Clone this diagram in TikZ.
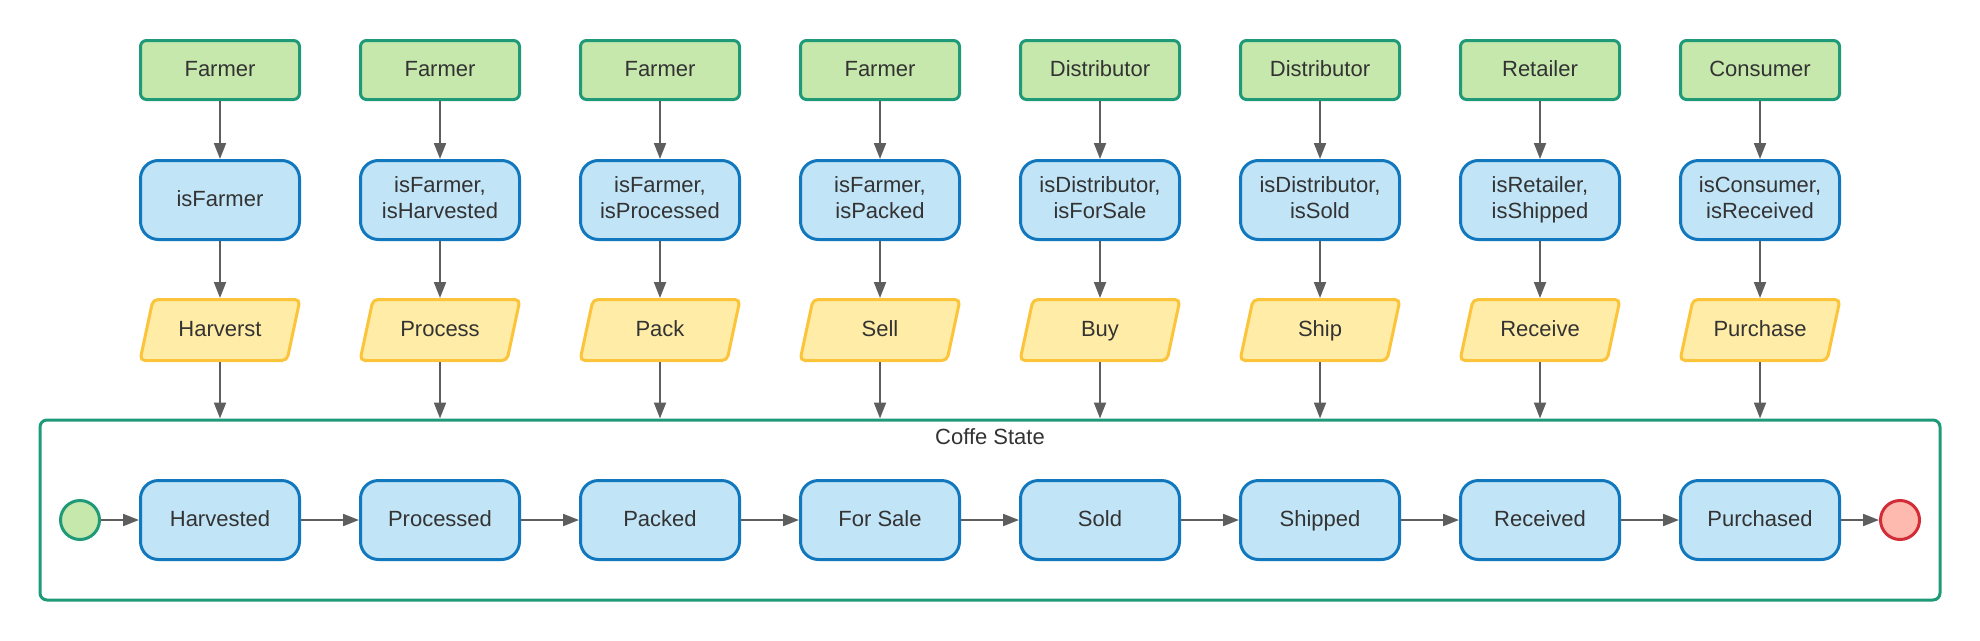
\documentclass[tikz,border=0pt]{standalone}
\usepackage{fontspec}
\setmainfont{Liberation Sans}
\usetikzlibrary{arrows.meta}
\definecolor{gfill}{HTML}{C7E8AC}
\definecolor{gline}{HTML}{1F9A78}
\definecolor{bfill}{HTML}{C1E4F7}
\definecolor{bline}{HTML}{1278BE}
\definecolor{yfill}{HTML}{FFECA6}
\definecolor{yline}{HTML}{FCC43A}
\definecolor{rfill}{HTML}{FFBAB0}
\definecolor{rline}{HTML}{D22C36}
\definecolor{arr}{HTML}{5E5E5E}
\definecolor{txt}{HTML}{333333}
\begin{document}
\begin{tikzpicture}[x=1pt,y=-1pt,
 every node/.style={font=\fontsize{22}{26.4}\selectfont, text=txt, inner sep=0pt},
 one/.style={text height=16pt, text depth=3pt},
 actor/.style={one, draw=gline, fill=gfill, line width=3pt, rounded corners=6pt, minimum width=159pt, minimum height=59pt},
 guard/.style={draw=bline, fill=bfill, line width=3pt, rounded corners=18pt, minimum width=159pt, minimum height=79pt},
 stbox/.style={guard, one},
 act/.style={one, minimum width=159pt, minimum height=61pt, outer sep=1.5pt},
 para/.style={draw=yline, fill=yfill, line width=3pt, rounded corners=5pt},
 conn/.style={draw=arr, line width=2pt, -{Triangle[length=16pt,width=12pt]}},
 cframe/.style={draw=gline, line width=3pt, rounded corners=7pt, minimum width=1900pt, minimum height=180pt},
 dot/.style={circle, line width=3pt, minimum size=39pt}
]
\useasboundingbox (0,0) rectangle (1980,640);
\node[cframe] (box) at (990,510) {};
\node[one] (title) at (990,438) {Coffe State};
\foreach \i/\who/\cond/\gh/\gd/\act/\st in {
 1/Farmer/{isFarmer}/16/3/Harverst/Harvested,
 2/Farmer/{isFarmer,\\isHarvested}/42.4/5.5/Process/Processed,
 3/Farmer/{isFarmer,\\isProcessed}/42.4/5.5/Pack/Packed,
 4/Farmer/{isFarmer,\\isPacked}/42.4/5.5/Sell/For Sale,
 5/Distributor/{isDistributor,\\isForSale}/42.4/5.5/Buy/Sold,
 6/Distributor/{isDistributor,\\isSold}/42.4/5.5/Ship/Shipped,
 7/Retailer/{isRetailer,\\isShipped}/42.4/5.5/Receive/Received,
 8/Consumer/{isConsumer,\\isReceived}/42.4/5.5/Purchase/Purchased}{
  \pgfmathsetmacro\x{220*\i}
  \node[actor] (a\i) at (\x,70) {\who};
  \node[guard, text height=\gh pt, text depth=\gd pt] (g\i) at (\x,200)
    {\parbox[b]{155pt}{\centering \cond}};
  \draw[para] (\x-67,299.5) -- (\x+80,299.5) -- (\x+67,360.5) -- (\x-80,360.5) -- cycle;
  \node[act] (p\i) at (\x,330) {\act};
  \node[stbox] (s\i) at (\x,520) {\st};
  \draw[conn] (a\i) -- (g\i);
  \draw[conn] (g\i) -- (p\i);
  \draw[conn] (p\i.south) -- (p\i.south |- box.north);
}
\node[dot, draw=gline, fill=gfill] (start) at (80,520) {};
\node[dot, draw=rline, fill=rfill] (stop) at (1900,520) {};
\draw[conn] (start) -- (s1);
\foreach \i [evaluate=\i as \j using int(\i+1)] in {1,...,7}{
  \draw[conn] (s\i) -- (s\j);
}
\draw[conn] (s8) -- (stop);
\end{tikzpicture}
\end{document}
